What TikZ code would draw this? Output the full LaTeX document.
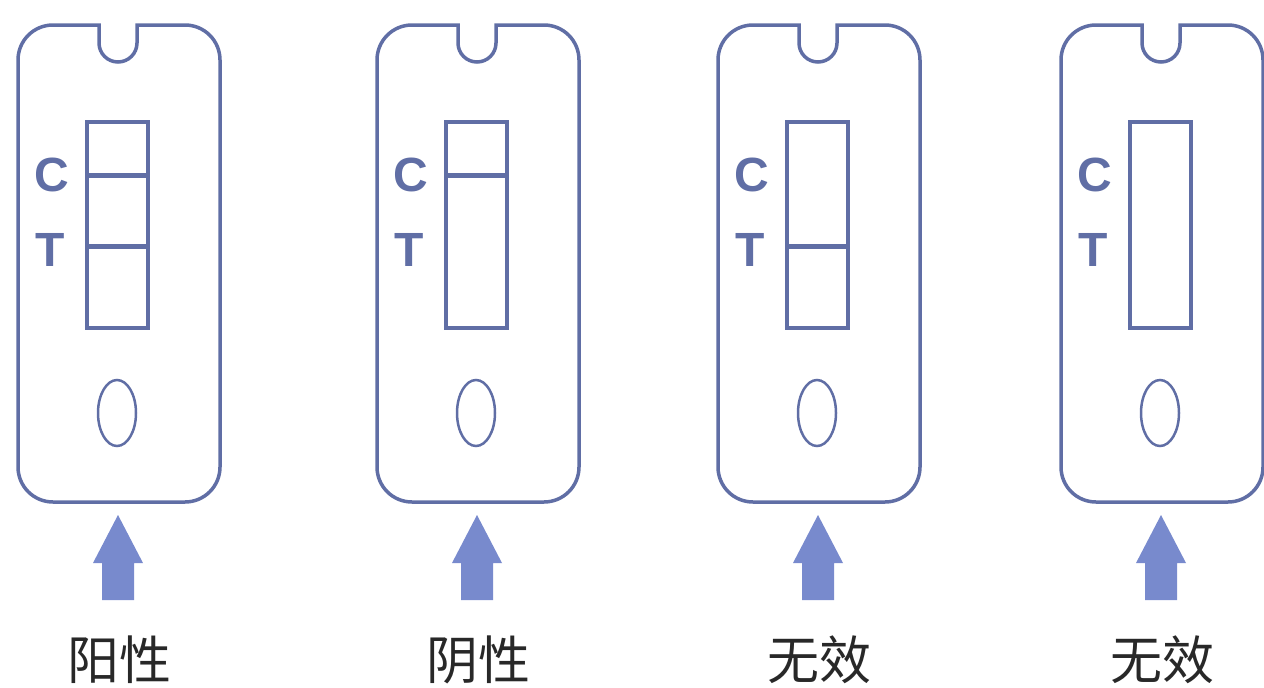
\documentclass[tikz,border=0pt]{standalone}
\usepackage{fontspec}
\setmainfont{Liberation Sans}
\newfontfamily\cjk{Noto Sans CJK SC}
\usepackage{tikz}
\usetikzlibrary{positioning}
\definecolor{caseCol}{RGB}{96, 110, 165}
\definecolor{arrowCol}{RGB}{120, 138, 205}
\definecolor{labCol}{RGB}{40, 40, 40}
\tikzset{myCase/.style={line width=3.5pt,color=caseCol}}
\tikzset{myWindow/.style={line width=4pt,color=caseCol}}
\tikzset{myBand/.style={line width=5pt,color=caseCol}}
\tikzset{myWell/.style={line width=2.5pt,color=caseCol}}
\tikzset{myLetter/.style={text=caseCol,font=\fontsize{48}{48}\selectfont\bfseries}}
\tikzset{myResult/.style={text=labCol,font=\cjk\fontsize{52}{52}\selectfont}}

\begin{document}
\begin{tikzpicture}[x=1pt,y=1pt]
	\useasboundingbox (0,0) rectangle (1264,-688);
	\foreach \L/\hasC/\hasT/\res [count=\i] in {18/1/1/阳性, 377/1/0/阴性, 718/0/1/无效, 1061/0/0/无效}{
		% cassette with notch
		\draw[myCase] (\L+119,-25) -- (\L+167,-25) arc[start angle=90,end angle=0,radius=35]
			-- (\L+202,-467) arc[start angle=0,end angle=-90,radius=35]
			-- (\L+35,-502) arc[start angle=270,end angle=180,radius=35]
			-- (\L,-60) arc[start angle=180,end angle=90,radius=35]
			-- (\L+81,-25) -- (\L+81,-43) arc[start angle=180,end angle=360,radius=19] -- cycle;
		\draw[myWindow] (\L+69,-122) rectangle (\L+130,-328);
		\ifnum\hasC=1 \draw[myBand] (\L+69,-175) -- (\L+130,-175); \fi
		\ifnum\hasT=1 \draw[myBand] (\L+69,-246) -- (\L+130,-246); \fi
		\node[myLetter] (c\i) at (\L+34,-175) {C};
		\node[myLetter] (t\i) at (\L+32,-250) {T};
		\draw[myWell] (\L+99,-413) ellipse [x radius=19, y radius=33];
		% sample arrow
		\fill[arrowCol] (\L+100,-515) -- (\L+125,-563) -- (\L+116,-563) -- (\L+116,-600)
			-- (\L+84,-600) -- (\L+84,-563) -- (\L+75,-563) -- cycle;
		\node[myResult] (res\i) at (\L+101,-660) {\res};
	}
\end{tikzpicture}
\end{document}
